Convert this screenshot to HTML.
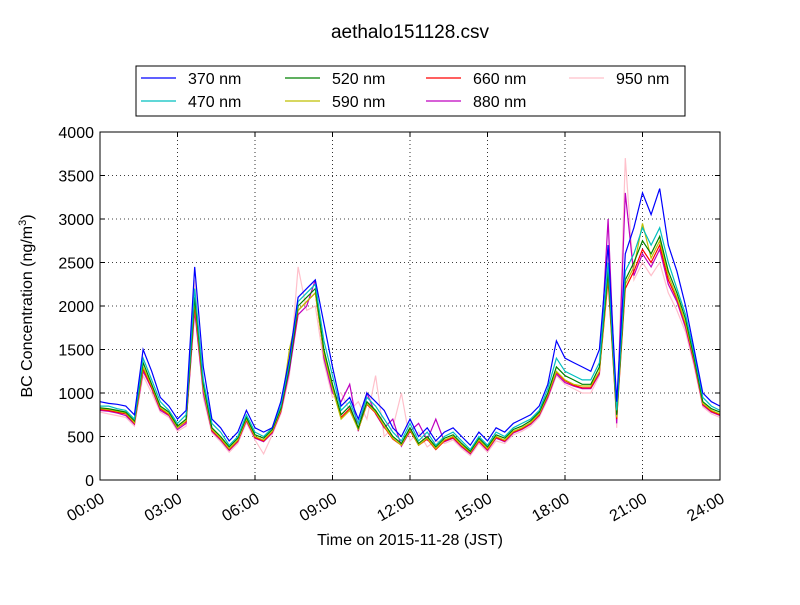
<!DOCTYPE html>
<html><head><meta charset="utf-8"><style>
body{margin:0;background:#fff}
svg text{font-family:"Liberation Sans",sans-serif}
</style></head><body>
<svg id="c" width="800" height="600" viewBox="0 0 800 600" xmlns="http://www.w3.org/2000/svg">
<rect width="800" height="600" fill="#fff"/>
<text x="410" y="38" text-anchor="middle" font-size="19">aethalo151128.csv</text>
<g id="grid"></g>
<g id="series"></g>
<rect x="100" y="132" width="620" height="348" fill="none" stroke="#000" stroke-width="1"/>
<g id="ticks"></g>
<text x="410" y="545" text-anchor="middle" font-size="16">Time on 2015-11-28 (JST)</text>
<text transform="translate(32,306) rotate(-90)" text-anchor="middle" font-size="16">BC Concentration (ng/m<tspan dy="-6" font-size="11">3</tspan><tspan dy="6">)</tspan></text>
<g id="legend"><rect x="136" y="66" width="549" height="50" fill="#fff" stroke="#000"/></g>
</svg>
<script>
const xTicks=["00:00","03:00","06:00","09:00","12:00","15:00","18:00","21:00","24:00"];
const yTicks=[0,500,1000,1500,2000,2500,3000,3500,4000];
const names=["370 nm","470 nm","520 nm","590 nm","660 nm","880 nm","950 nm"];
const colors=["#0000ff","#00bfbf","#008000","#bfbf00","#ff0000","#bf00bf","#ffc0cb"];
const s370=[900,880,870,850,750,1500,1250,950,850,700,800,2450,1300,700,600,450,550,800,600,550,600,900,1400,2100,2200,2300,1800,1300,850,950,700,1000,900,800,600,500,700,500,600,450,550,600,500,400,550,450,600,550,650,700,750,850,1100,1600,1400,1350,1300,1250,1500,2700,900,2600,2900,3300,3050,3350,2700,2400,2000,1500,1000,900,850];
const s470=[850,850,820,800,700,1400,1150,900,800,650,750,2200,1150,650,550,400,500,750,550,500,600,850,1350,2050,2150,2250,1600,1200,800,900,650,950,850,700,550,450,650,450,550,400,500,550,450,350,500,400,550,500,600,650,700,800,1050,1400,1250,1200,1150,1150,1350,2500,800,2400,2600,2900,2700,2900,2500,2200,1900,1450,950,850,800];
const s520=[830,820,800,780,680,1350,1100,850,780,620,700,2100,1100,600,500,380,480,720,520,480,580,820,1300,2000,2100,2200,1500,1100,750,850,600,900,800,650,500,420,600,420,500,380,480,520,420,330,480,380,520,480,580,620,680,780,1000,1300,1200,1150,1100,1100,1300,2400,750,2300,2500,2750,2600,2800,2400,2150,1850,1400,900,820,780];
const s590=[820,810,790,770,660,1300,1080,830,760,600,680,2050,1050,580,480,360,460,700,500,460,560,800,1500,1950,2050,2150,1450,1050,700,800,580,880,780,620,480,400,580,400,480,360,460,500,400,320,460,360,500,460,560,600,660,760,980,1250,1150,1100,1080,1080,1250,2350,720,2250,2450,2950,2550,2750,2350,2100,1800,1380,880,800,760];
const s660=[810,800,780,760,650,1280,1060,820,750,600,670,2000,1050,570,470,350,450,690,490,450,550,790,1300,1950,2050,2150,1450,1050,720,820,580,870,770,610,470,400,570,400,470,350,450,490,390,310,450,350,490,450,550,590,650,750,970,1240,1140,1090,1060,1060,1240,2300,700,2200,2400,2650,2500,2700,2300,2080,1780,1360,870,790,750];
const s880=[800,790,770,740,640,1250,1050,800,740,580,650,1950,1000,560,460,340,440,680,480,440,540,780,1250,1900,2000,2300,1400,1000,900,1100,560,1000,760,600,700,390,560,650,460,700,440,480,380,300,440,340,480,440,540,580,640,740,950,1220,1120,1080,1050,1050,1220,3000,650,3300,2350,2600,2450,2650,2250,2050,1750,1340,860,780,740];
const s950=[780,760,740,720,620,1200,1000,780,720,560,620,2300,950,540,440,320,420,660,460,300,520,760,1200,2450,1950,2000,1350,950,1000,800,900,700,1200,500,600,1000,450,550,380,450,420,460,360,280,420,320,450,420,520,560,620,720,930,1200,1100,1050,1000,1000,1200,2600,600,3700,2300,2500,2350,2500,2150,1950,1700,1300,840,760,720];
const allSeries=[s370,s470,s520,s590,s660,s880,s950];
const NS="http://www.w3.org/2000/svg";
const X0=100,X1=720,Y0=480,Y1=132;
const xs=h=>X0+(X1-X0)*h/24;
const ys=v=>Y0-(Y0-Y1)*v/4000;
function mk(t,a,p){const e=document.createElementNS(NS,t);for(const k in a)e.setAttribute(k,a[k]);(p||document.getElementById('c')).appendChild(e);return e;}
const grid=document.getElementById('grid'),ticks=document.getElementById('ticks');
xTicks.forEach((t,i)=>{const x=xs(i*3);
 if(i>0&&i<8){const g=mk('line',{x1:x,x2:x,y1:Y1,y2:Y0,stroke:'#000','stroke-dasharray':'1,3','stroke-width':0.8},grid);
 
 }
 mk('line',{x1:x,x2:x,y1:Y0,y2:Y0-5,stroke:'#000'},ticks);mk('line',{x1:x,x2:x,y1:Y1,y2:Y1+5,stroke:'#000'},ticks);
 const tx=mk('text',{x:x,y:Y0+12,'text-anchor':'end','font-size':16,transform:`rotate(-30 ${x} ${Y0+12})`,dy:'0.7em'},ticks);
 tx.textContent=t;
 
 });
yTicks.forEach(v=>{const y=ys(v);
 if(v>0&&v<4000){const g=mk('line',{x1:X0,x2:X1,y1:y,y2:y,stroke:'#000','stroke-dasharray':'1,3','stroke-width':0.8},grid);
 
 }
 mk('line',{x1:X0,x2:X0+5,y1:y,y2:y,stroke:'#000'},ticks);mk('line',{x1:X1,x2:X1-5,y1:y,y2:y,stroke:'#000'},ticks);
 const tx=mk('text',{x:94,y:y+6,'text-anchor':'end','font-size':16},ticks);
 tx.textContent=v;
 
 });
const sg=document.getElementById('series');
[6,5,4,3,2,1,0].forEach(k=>{const d=allSeries[k];
 const pts=d.map((v,i)=>xs(i*24/(d.length-1)).toFixed(1)+','+ys(v).toFixed(1)).join(' ');
 const p=mk('polyline',{points:pts,fill:'none',stroke:colors[k],'stroke-width':1.2},sg);
 
 });
const lg=document.getElementById('legend');
const colX=[141,285,426,569];
names.forEach((n,i)=>{const c=Math.floor(i/2),r=i%2;const x=colX[c],y=r?101:78;
 const l=mk('line',{x1:x,x2:x+35,y1:y,y2:y,stroke:colors[i],'stroke-width':1.2},lg);
 
 
 const t=mk('text',{x:x+47,y:y+6,'font-size':16},lg);t.textContent=n;
 
 });
</script>
</body></html>
